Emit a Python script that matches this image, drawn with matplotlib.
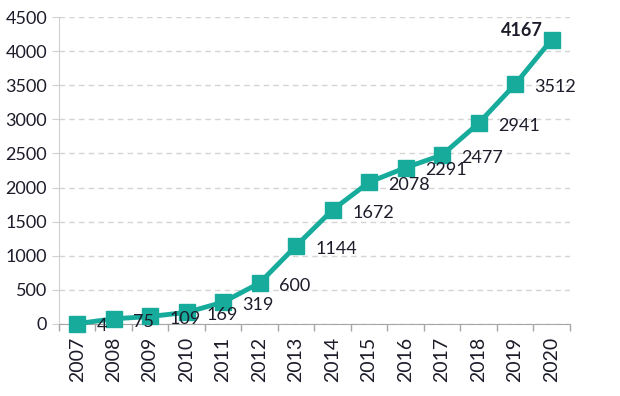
import matplotlib.pyplot as plt

# data
years = ["2007", "2008", "2009", "2010", "2011", "2012", "2013",
         "2014", "2015", "2016", "2017", "2018", "2019", "2020"]
values = [4, 75, 109, 169, 319, 600, 1144, 1672, 2078, 2291, 2477, 2941, 3512, 4167]
yticks = [0, 500, 1000, 1500, 2000, 2500, 3000, 3500, 4000, 4500]

teal = "#17ab9c"
txt = "#1c1c2a"

plt.rcParams['font.family'] = ['Lato', 'DejaVu Sans']

fig = plt.figure(figsize=(6.2, 3.96), dpi=100)
ax = fig.add_axes([0.095, 0.182, 0.824, 0.775])

x = list(range(len(years)))
ax.plot(x, values, color=teal, lw=3.5, marker="s", markersize=11.5,
        clip_on=False, zorder=3)

# data labels
for i, v in enumerate(values):
    if i == len(values) - 1:
        ax.annotate(str(v), (i, v), xytext=(-6, 7), textcoords="offset points",
                    ha="right", va="center", fontsize=13, fontweight="bold",
                    color=txt)
    else:
        ax.annotate(str(v), (i, v), xytext=(14, -2), textcoords="offset points",
                    ha="left", va="center", fontsize=13, color=txt)

ax.set_xlim(-0.5, len(years) - 0.5)
ax.set_ylim(0, 4500)
ax.set_yticks(yticks)
ax.set_xticks(x)
ax.set_xticklabels(years, rotation=90)
ax.set_xticks([i - 0.5 for i in range(len(years) + 1)], minor=True)
ax.tick_params(axis="x", which="major", length=0, pad=9, labelsize=14, labelcolor=txt)
ax.tick_params(axis="x", which="minor", length=5, color="#a6a6a6", width=1)
ax.tick_params(axis="y", length=5, color="#d0d0d0", labelsize=13, labelcolor=txt)

ax.yaxis.grid(True, linestyle=(0, (4, 3)), color="#d4d4d4", lw=1)
ax.set_axisbelow(True)
for s in ["top", "right"]:
    ax.spines[s].set_visible(False)
ax.spines["left"].set_color("#d0d0d0")
ax.spines["bottom"].set_color("#a6a6a6")

plt.savefig("out.png", dpi=100)
